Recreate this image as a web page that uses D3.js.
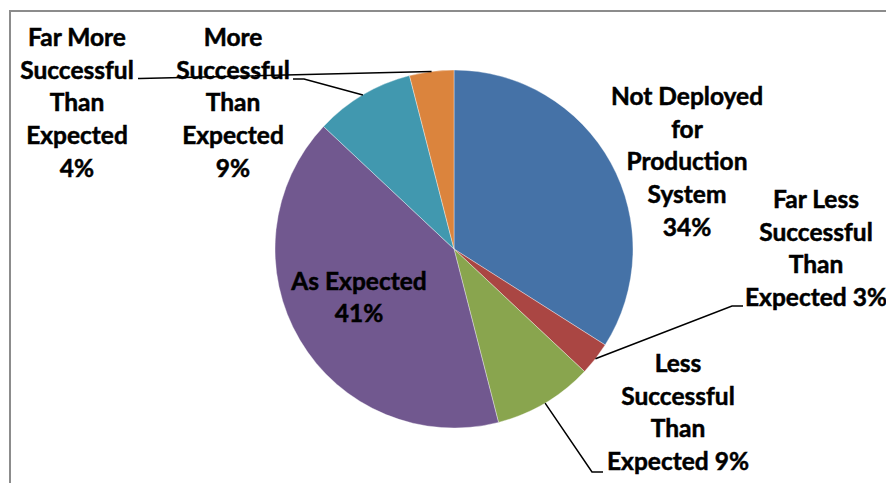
<!DOCTYPE html>
<html>
<head>
<meta charset="utf-8">
<script src="https://cdn.jsdelivr.net/npm/d3@7"></script>
<style>
  html, body { margin: 0; padding: 0; background: #fff; }
  svg { display: block; }
  text { font-family: Lato, "Open Sans", sans-serif; font-weight: 700; fill: #000; }
</style>
</head>
<body>
<svg id="chart" width="886" height="483"></svg>
<script>
// ---- data ----
const categories = [
  "Not Deployed for Production System",
  "Far Less Successful Than Expected",
  "Less Successful Than Expected",
  "As Expected",
  "More Successful Than Expected",
  "Far More Successful Than Expected"
];
const values = [34, 3, 9, 41, 9, 4];
const labelLines = [
  ["Not Deployed", "for", "Production", "System", "34%"],
  ["Far Less", "Successful", "Than", "Expected 3%"],
  ["Less", "Successful", "Than", "Expected 9%"],
  ["As Expected", "41%"],
  ["More", "Successful", "Than", "Expected", "9%"],
  ["Far More", "Successful", "Than", "Expected", "4%"]
];
const colors = ["#4572A7", "#AA4643", "#89A54E", "#71588F", "#4198AF", "#DB843D"];

// ---- layout ----
const W = 886, H = 483;
const cx = 454, cy = 249, R = 179;
const lineH = 32.7;
const fontSize = 24.5;
// label anchor: [centerX, firstBaselineY]
const labelPos = [
  [687, 105],
  [816, 208],
  [678, 372],
  [359, 289.5],
  [233, 46],
  [77, 46]
];
// leader line: [elbowX, elbowY, endX, endY] or null
const leaders = [
  null,
  [732, 306, 743, 306],
  [592, 472, 603, 472],
  null,
  [304, 79, 293, 79],
  [140, 78.5, 138, 78.5]
];

const svg = d3.select("#chart");

// frame
svg.append("rect")
  .attr("x", 10).attr("y", 11)
  .attr("width", W + 20).attr("height", H + 20)
  .attr("fill", "none")
  .attr("stroke", "#8c8c8c")
  .attr("stroke-width", 2);

const pie = d3.pie().sort(null).value(d => d)
  .startAngle(0).endAngle(2 * Math.PI);
const arcs = pie(values);
const arc = d3.arc().innerRadius(0).outerRadius(R);

const g = svg.append("g").attr("transform", `translate(${cx},${cy})`);
g.selectAll("path.slice")
  .data(arcs)
  .join("path")
  .attr("class", "slice")
  .attr("d", arc)
  .attr("fill", (d, i) => colors[i])
  .attr("stroke", "#ffffff")
  .attr("stroke-width", 0.6)
  .attr("stroke-opacity", 0.6);

// leader lines
arcs.forEach((d, i) => {
  const L = leaders[i];
  if (!L) return;
  const a = (d.startAngle + d.endAngle) / 2;
  const sx = cx + R * Math.sin(a);
  const sy = cy - R * Math.cos(a);
  svg.append("polyline")
    .attr("points", `${sx},${sy} ${L[0]},${L[1]} ${L[2]},${L[3]}`)
    .attr("fill", "none")
    .attr("stroke", "#000")
    .attr("stroke-width", 1.5);
});

// labels
labelLines.forEach((lines, i) => {
  const t = svg.append("text")
    .attr("text-anchor", "middle")
    .attr("font-size", fontSize)
    .attr("stroke", "#000")
    .attr("stroke-width", 0.5);
  lines.forEach((ln, j) => {
    t.append("tspan")
      .attr("x", labelPos[i][0])
      .attr("y", labelPos[i][1] + j * lineH)
      .text(ln);
  });
});
</script>
</body>
</html>
